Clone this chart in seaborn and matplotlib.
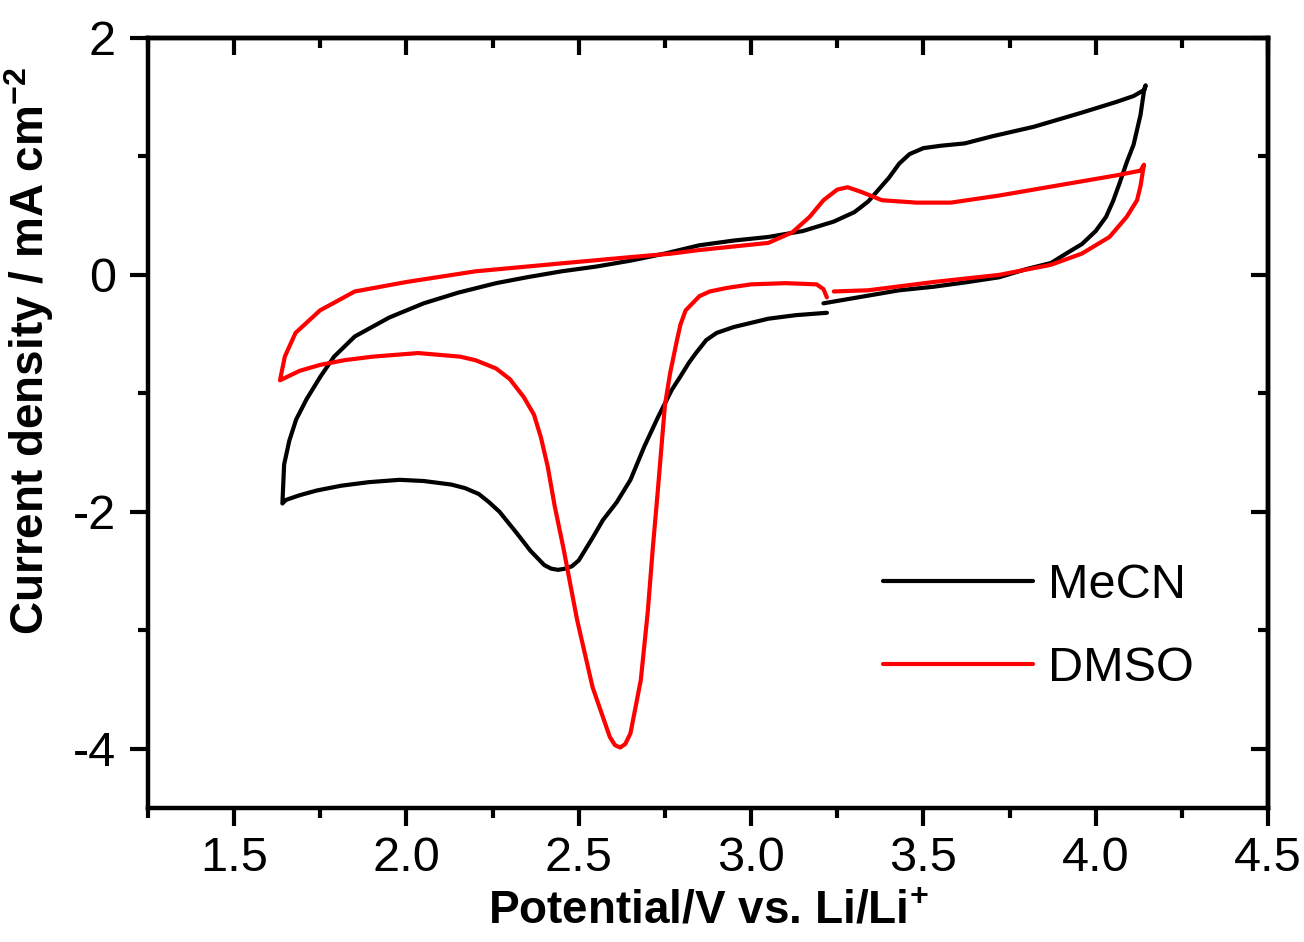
import numpy as np
import pandas as pd
import matplotlib
matplotlib.use("Agg")
import matplotlib.pyplot as plt
import seaborn as sns
from matplotlib.ticker import MultipleLocator
from matplotlib.lines import Line2D

# ---------------- data ----------------
mecn_v = [3.22, 3.13, 3.05, 2.95, 2.90, 2.87, 2.84, 2.82, 2.79, 2.77, 2.73, 2.69, 2.65, 2.61,
          2.57, 2.54, 2.50, 2.48, 2.46, 2.44, 2.42, 2.40, 2.36, 2.32, 2.27, 2.24, 2.21, 2.17,
          2.13, 2.05, 1.98, 1.89, 1.81, 1.74, 1.69, 1.65, 1.64,
          1.645, 1.66, 1.68, 1.71, 1.75, 1.79, 1.85, 1.95, 2.05, 2.15, 2.26, 2.35, 2.45, 2.55,
          2.65, 2.75, 2.85, 2.95, 3.05, 3.15, 3.24, 3.30, 3.34, 3.37, 3.40, 3.43, 3.46, 3.50,
          3.55, 3.62, 3.70, 3.82, 3.96, 4.06, 4.11, 4.14, 4.145,
          4.14, 4.13, 4.11, 4.09, 4.07, 4.05, 4.03, 4.00, 3.96, 3.92, 3.87, 3.80, 3.72, 3.63,
          3.53, 3.43, 3.33, 3.21]
mecn_j = [-0.32, -0.34, -0.37, -0.44, -0.49, -0.55, -0.66, -0.74, -0.88, -0.97, -1.20, -1.45,
          -1.73, -1.92, -2.07, -2.22, -2.41, -2.46, -2.48, -2.49, -2.48, -2.45, -2.33, -2.18,
          -2.00, -1.92, -1.85, -1.80, -1.77, -1.74, -1.73, -1.75, -1.78, -1.82, -1.86, -1.90, -1.93,
          -1.60, -1.40, -1.22, -1.05, -0.86, -0.69, -0.52, -0.36, -0.24, -0.15, -0.07, -0.02,
          0.03, 0.07, 0.12, 0.18, 0.25, 0.29, 0.32, 0.37, 0.45, 0.53, 0.62, 0.72, 0.82, 0.94,
          1.02, 1.07, 1.09, 1.11, 1.17, 1.25, 1.37, 1.46, 1.51, 1.56, 1.60,
          1.55, 1.35, 1.10, 0.95, 0.78, 0.62, 0.49, 0.37, 0.26, 0.19, 0.10, 0.05, -0.02, -0.06,
          -0.10, -0.13, -0.18, -0.24]

dmso_v = [3.22, 3.21, 3.19, 3.10, 3.00, 2.93, 2.88, 2.85, 2.83, 2.81, 2.795, 2.785, 2.765,
          2.75, 2.74, 2.73, 2.715, 2.70, 2.68, 2.65, 2.635, 2.62, 2.605, 2.59, 2.54, 2.495,
          2.455, 2.43, 2.41, 2.39, 2.37, 2.34, 2.30, 2.26, 2.20, 2.155, 2.034, 1.903, 1.82,
          1.749, 1.69, 1.633,
          1.647, 1.678, 1.749, 1.85, 2.00, 2.20, 2.46, 2.65, 2.77, 2.85, 3.05, 3.12, 3.17,
          3.21, 3.25, 3.28, 3.32, 3.38, 3.48, 3.58, 3.72, 3.92, 4.06, 4.13, 4.14,
          4.13, 4.12, 4.09, 4.04, 3.96, 3.87, 3.72, 3.53, 3.34, 3.24]
dmso_j = [-0.19, -0.12, -0.08, -0.07, -0.08, -0.11, -0.14, -0.18, -0.24, -0.30, -0.42, -0.55,
          -0.83, -1.10, -1.45, -1.80, -2.30, -2.85, -3.42, -3.87, -3.96, -3.99, -3.97, -3.90,
          -3.48, -2.91, -2.30, -1.95, -1.62, -1.37, -1.18, -1.03, -0.88, -0.79, -0.72, -0.69,
          -0.66, -0.69, -0.72, -0.76, -0.81, -0.89,
          -0.69, -0.49, -0.30, -0.14, -0.06, 0.03, 0.10, 0.15, 0.18, 0.21, 0.27, 0.36, 0.49,
          0.63, 0.72, 0.74, 0.70, 0.63, 0.61, 0.61, 0.67, 0.77, 0.84, 0.88, 0.93,
          0.75, 0.63, 0.49, 0.32, 0.18, 0.085, 0.00, -0.06, -0.13, -0.14]

series_names = ["MeCN", "DMSO"]
series_colors = {"MeCN": "black", "DMSO": "red"}

x_label = r"Potential/V vs. Li/Li$^{\mathbf{+}}$"
y_label = r"Current density / mA cm$^{\mathbf{-2}}$"

# ---------------- style ----------------
sns.set_theme(style="ticks")
plt.rcParams["font.family"] = ["Liberation Sans", "DejaVu Sans"]
plt.rcParams["axes.unicode_minus"] = False
plt.rcParams["mathtext.fontset"] = "custom"
plt.rcParams["mathtext.rm"] = "Liberation Sans"
plt.rcParams["mathtext.bf"] = "Liberation Sans:bold"
plt.rcParams["text.color"] = "black"
plt.rcParams["axes.labelcolor"] = "black"
plt.rcParams["xtick.color"] = "black"
plt.rcParams["ytick.color"] = "black"

df = pd.concat([
    pd.DataFrame({"V": mecn_v, "J": mecn_j, "solvent": "MeCN", "step": np.arange(len(mecn_v))}),
    pd.DataFrame({"V": dmso_v, "J": dmso_j, "solvent": "DMSO", "step": np.arange(len(dmso_v))}),
])

fig = plt.figure(figsize=(13.04, 9.42), dpi=100)
ax = fig.add_axes([0.1135, 0.1423, 0.8589, 0.8174])

sns.lineplot(data=df, x="V", y="J", hue="solvent", palette=series_colors,
             hue_order=series_names, sort=False, estimator=None, lw=3, ax=ax, legend=False)

ax.set_xlim(1.25, 4.5)
ax.set_ylim(-4.5, 2)
ax.xaxis.set_major_locator(MultipleLocator(0.5))
ax.xaxis.set_minor_locator(MultipleLocator(0.25))
ax.yaxis.set_major_locator(MultipleLocator(2))
ax.yaxis.set_minor_locator(MultipleLocator(1))
ax.xaxis.set_major_formatter(matplotlib.ticker.FormatStrFormatter("%.1f"))
ax.yaxis.set_major_formatter(matplotlib.ticker.FormatStrFormatter("%d"))

for s in ax.spines.values():
    s.set_linewidth(3.2)
    s.set_color("black")

ax.tick_params(which="major", direction="out", length=13, width=3, labelsize=35,
               color="black", labelcolor="black")
ax.tick_params(which="minor", direction="out", length=7, width=3, color="black")
ax.tick_params(axis="x", which="major", pad=7)
ax.tick_params(axis="y", which="major", pad=10)

secx = ax.secondary_xaxis("top")
secx.xaxis.set_major_locator(MultipleLocator(0.5))
secx.xaxis.set_minor_locator(MultipleLocator(0.25))
secx.tick_params(which="major", direction="in", length=12, width=3, labeltop=False, color="black")
secx.tick_params(which="minor", direction="in", length=7, width=3, labeltop=False, color="black")
secx.spines["top"].set_linewidth(3.2)
secx.spines["top"].set_color("black")

secy = ax.secondary_yaxis("right")
secy.yaxis.set_major_locator(MultipleLocator(2))
secy.yaxis.set_minor_locator(MultipleLocator(1))
secy.tick_params(which="major", direction="in", length=12, width=3, labelright=False, color="black")
secy.tick_params(which="minor", direction="in", length=7, width=3, labelright=False, color="black")
secy.spines["right"].set_linewidth(3.2)
secy.spines["right"].set_color("black")

ax.set_xlabel(x_label, fontsize=33, fontweight="bold", labelpad=6, color="black")
ax.set_ylabel(y_label, fontsize=33, fontweight="bold", color="black")
ax.yaxis.set_label_coords(-0.082, 0.594)

handles = [Line2D([0], [0], color=series_colors[n], lw=3) for n in series_names]
leg = ax.legend(handles, series_names, loc="upper left", bbox_to_anchor=(0.656, 0.318),
                frameon=False, fontsize=35, handlelength=3.1, handletextpad=0.3,
                labelspacing=0.78, borderpad=0, borderaxespad=0)
for t in leg.get_texts():
    t.set_color("black")

fig.savefig("out.png", dpi=100)
